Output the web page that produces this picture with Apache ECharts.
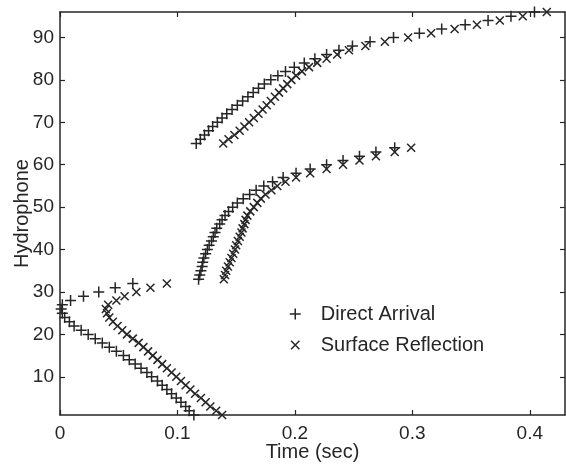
<!DOCTYPE html>
<html>
<head>
<meta charset="utf-8">
<script src="https://cdn.jsdelivr.net/npm/echarts@6/dist/echarts.min.js"></script>
<style>
  html, body { margin: 0; padding: 0; background: #fff; }
  #chart { width: 566px; height: 464px; }
</style>
</head>
<body>
<div id="chart"></div>
<script>
// hydrophone number, 1..96
var hydrophones = [
  1, 2, 3, 4, 5, 6, 7, 8, 9, 10, 11, 12, 13, 14, 15, 16,
  17, 18, 19, 20, 21, 22, 23, 24, 25, 26, 27, 28, 29, 30, 31, 32,
  33, 34, 35, 36, 37, 38, 39, 40, 41, 42, 43, 44, 45, 46, 47, 48,
  49, 50, 51, 52, 53, 54, 55, 56, 57, 58, 59, 60, 61, 62, 63, 64,
  65, 66, 67, 68, 69, 70, 71, 72, 73, 74, 75, 76, 77, 78, 79, 80,
  81, 82, 83, 84, 85, 86, 87, 88, 89, 90, 91, 92, 93, 94, 95, 96
];

// arrival time (sec) per hydrophone
var directTime = [
  0.114, 0.110, 0.107, 0.103, 0.099, 0.095, 0.091, 0.087, 0.083, 0.078, 0.074, 0.069, 0.064, 0.059, 0.054, 0.048,
  0.042, 0.036, 0.030, 0.024, 0.018, 0.012, 0.008, 0.004, 0.002, 0.001, 0.002, 0.009, 0.020, 0.033, 0.047, 0.062,
  0.118, 0.119, 0.120, 0.121, 0.1215, 0.1225, 0.124, 0.1255, 0.127, 0.129, 0.1305, 0.132, 0.1335, 0.136, 0.138, 0.1405,
  0.1435, 0.147, 0.151, 0.156, 0.1615, 0.167, 0.1735, 0.181, 0.190, 0.201, 0.213, 0.227, 0.241, 0.255, 0.269, 0.285,
  0.116, 0.1195, 0.123, 0.1265, 0.130, 0.134, 0.138, 0.142, 0.1465, 0.151, 0.1555, 0.160, 0.1645, 0.169, 0.174, 0.1795,
  0.1855, 0.192, 0.1995, 0.208, 0.217, 0.227, 0.2375, 0.249, 0.264, 0.284, 0.306, 0.325, 0.345, 0.3645, 0.384, 0.404
];

var surfaceTime = [
  0.138, 0.133, 0.128, 0.124, 0.120, 0.115, 0.111, 0.107, 0.103, 0.099, 0.095, 0.091, 0.087, 0.083, 0.079, 0.075,
  0.071, 0.067, 0.062, 0.057, 0.053, 0.049, 0.045, 0.042, 0.040, 0.039, 0.041, 0.048, 0.055, 0.065, 0.077, 0.091,
  0.1395, 0.1405, 0.1415, 0.143, 0.1445, 0.146, 0.1475, 0.149, 0.150, 0.1515, 0.153, 0.1545, 0.1555, 0.157, 0.158, 0.1595,
  0.162, 0.165, 0.168, 0.171, 0.175, 0.180, 0.185, 0.192, 0.201, 0.213, 0.227, 0.241, 0.255, 0.269, 0.285, 0.299,
  0.139, 0.1435, 0.1485, 0.153, 0.157, 0.161, 0.165, 0.169, 0.1725, 0.176, 0.1795, 0.183, 0.1865, 0.190, 0.1935, 0.197,
  0.201, 0.206, 0.212, 0.219, 0.227, 0.236, 0.246, 0.260, 0.2766, 0.2964, 0.316, 0.336, 0.355, 0.3745, 0.394, 0.4145
];

var xTicks = [0, 0.1, 0.2, 0.3, 0.4];
var yTicks = [10, 20, 30, 40, 50, 60, 70, 80, 90];
var seriesNames = ['Direct Arrival', 'Surface Reflection'];

var ink = '#262626';
var font = 'Liberation Sans, Arial, Helvetica, sans-serif';
var plusPath = 'path://M0,5L10,5M5,0L5,10';
var crossPath = 'path://M0,0L10,10M10,0L0,10';
// same cross, drawn smaller inside a 10x10 box for the legend
var crossIcon = 'path://M0,0M10,10M1.2,1.2L8.8,8.8M8.8,1.2L1.2,8.8';

function pairs(times) {
  var out = [];
  for (var i = 0; i < hydrophones.length; i++) out.push([times[i], hydrophones[i]]);
  return out;
}

function xAxisCfg(pos, labels) {
  return {
    type: 'value', position: pos, min: 0, max: 0.43,
    name: labels ? 'Time (sec)' : '', nameLocation: 'middle', nameGap: 27, nameMoveOverlap: false,
    nameTextStyle: { color: ink, fontSize: 20, fontFamily: font },
    axisLine: { show: true, onZero: false, lineStyle: { color: ink, width: 1.5 } },
    axisTick: { show: true, inside: true, length: 5, customValues: xTicks, lineStyle: { color: ink, width: 1.2 } },
    axisLabel: { show: labels, customValues: xTicks, margin: 9, color: ink, fontSize: 19, fontFamily: font },
    splitLine: { show: false }
  };
}

function yAxisCfg(pos, labels) {
  return {
    type: 'value', position: pos, min: 1, max: 96,
    name: labels ? 'Hydrophone' : '', nameLocation: 'middle', nameGap: 28, nameMoveOverlap: false,
    nameTextStyle: { color: ink, fontSize: 20, fontFamily: font },
    axisLine: { show: true, onZero: false, lineStyle: { color: ink, width: 1.5 } },
    axisTick: { show: true, inside: true, length: 5, customValues: yTicks, lineStyle: { color: ink, width: 1.2 } },
    axisLabel: { show: labels, customValues: yTicks, margin: 6, color: ink, fontSize: 19, fontFamily: font },
    splitLine: { show: false }
  };
}

var myChart = echarts.init(document.getElementById('chart'), null, { renderer: 'canvas' });

var option = {
  backgroundColor: '#fff',
  animation: false,
  grid: { left: 60, right: 1, top: 12, bottom: 49, containLabel: false, outerBoundsMode: 'none' },
  legend: {
    orient: 'vertical', left: 289, top: 304, itemGap: 11, padding: 0,
    itemWidth: 11, itemHeight: 11,
    textStyle: { color: ink, fontSize: 20, fontFamily: font, padding: [0, 0, 0, 15] },
    data: [
      { name: seriesNames[0], icon: plusPath, itemStyle: { color: 'rgba(0,0,0,0)', borderColor: ink, borderWidth: 1.5 } },
      { name: seriesNames[1], icon: crossIcon, itemStyle: { color: 'rgba(0,0,0,0)', borderColor: ink, borderWidth: 1.5 } }
    ]
  },
  xAxis: [xAxisCfg('bottom', true), xAxisCfg('top', false)],
  yAxis: [yAxisCfg('left', true), yAxisCfg('right', false)],
  series: [
    {
      name: seriesNames[0], type: 'scatter', clip: false,
      symbol: plusPath, symbolSize: 11,
      itemStyle: { color: 'rgba(0,0,0,0)', borderColor: ink, borderWidth: 1.5, opacity: 1 },
      data: pairs(directTime)
    },
    {
      name: seriesNames[1], type: 'scatter', clip: false,
      symbol: crossPath, symbolSize: 8,
      itemStyle: { color: 'rgba(0,0,0,0)', borderColor: ink, borderWidth: 1.5, opacity: 1 },
      data: pairs(surfaceTime)
    }
  ]
};

myChart.setOption(option);

window.addEventListener('resize', function () {
  myChart.resize();
});
</script>
</body>
</html>
